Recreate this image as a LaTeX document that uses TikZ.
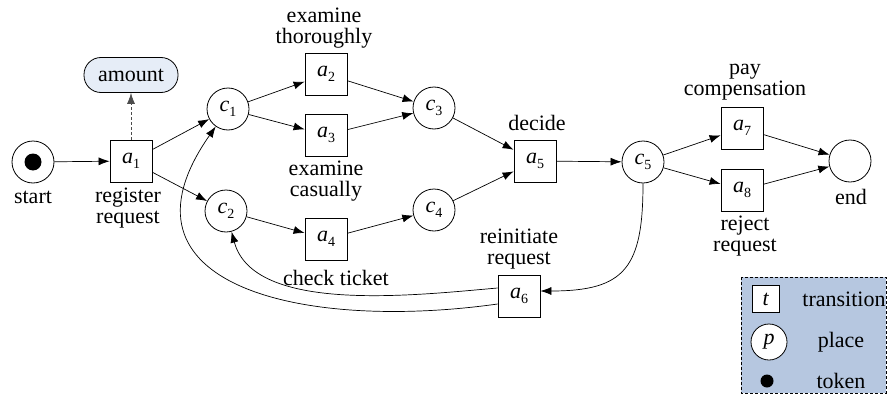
\documentclass[tikz,border=0pt]{standalone}
\usepackage{fontspec}
\setmainfont{Liberation Serif}
\usetikzlibrary{arrows.meta}
\definecolor{legendfill}{RGB}{182,199,224}
\definecolor{datafill}{RGB}{230,237,247}
\newcommand{\pn}[2]{\textit{#1}\raisebox{-0.25em}{\fontsize{14}{14}\selectfont #2}}
\begin{document}
\begin{tikzpicture}[x=1pt,y=-1pt,
	every node/.style={font=\fontsize{22}{21}\selectfont},
	trans/.style={draw, line width=0.8pt, fill=white, minimum size=42pt, inner sep=0pt},
	place/.style={draw, line width=0.8pt, circle, fill=white, minimum size=42pt, inner sep=0pt},
	token/.style={circle, fill=black, inner sep=0pt},
	txt/.style={align=center, inner sep=0pt},
	arc/.style={line width=0.7pt, -{Latex[length=11pt,width=8pt]}}]
	\useasboundingbox (0,0) rectangle (893,396);

	\node[place] (start) at (33,162) {};
	\node[token, minimum size=17pt] (tok) at (33,162) {};
	\node[txt] (Nstart) at (33,197) {start};
	\node[trans] (a1) at (131,161) {\pn{a}{1}};
	\node[txt] (Na1) at (128,208) {register\\request};
	\node[draw, line width=0.8pt, fill=datafill, rounded corners=17pt, minimum width=94pt, minimum height=35pt] (amount) at (131,75) {amount};

	\node[place] (c1) at (228,109) {\pn{c}{1}};
	\node[place] (c2) at (226,211) {\pn{c}{2}};
	\node[trans] (a2) at (326,74) {\pn{a}{2}};
	\node[txt] (Na2) at (324,28) {examine\\thoroughly};
	\node[trans] (a3) at (326,135) {\pn{a}{3}};
	\node[txt] (Na3) at (326,181) {examine\\casually};
	\node[trans] (a4) at (326,239) {\pn{a}{4}};
	\node[txt] (Na4) at (336,278) {check ticket};
	\node[place] (c3) at (434,108) {\pn{c}{3}};
	\node[place] (c4) at (434,210) {\pn{c}{4}};

	\node[trans] (a5) at (535,161) {\pn{a}{5}};
	\node[txt] (Na5) at (537,123) {decide};
	\node[place] (c5) at (643,162) {\pn{c}{5}};
	\node[trans] (a6) at (519,296) {\pn{a}{6}};
	\node[txt] (Na6) at (519,249) {reinitiate\\request};
	\node[trans] (a7) at (742,128) {\pn{a}{7}};
	\node[txt] (Na7) at (745,82) {pay\\compensation};
	\node[trans] (a8) at (742,190) {\pn{a}{8}};
	\node[txt] (Na8) at (745,236) {reject\\request};
	\node[place] (pend) at (850,161) {};
	\node[txt] (Npend) at (851,197) {end};

	\draw[arc] (start) -- (a1);
	\draw[arc, densely dashed, gray!60!black] (a1) -- (amount);
	\draw[arc] (a1) -- (c1);
	\draw[arc] (a1) -- (c2);
	\draw[arc] (c1) -- (a2);
	\draw[arc] (c1) -- (a3);
	\draw[arc] (c2) -- (a4);
	\draw[arc] (a2) -- (c3);
	\draw[arc] (a3) -- (c3);
	\draw[arc] (a4) -- (c4);
	\draw[arc] (c3) -- (a5);
	\draw[arc] (c4) -- (a5);
	\draw[arc] (a5) -- (c5);
	\draw[arc] (c5) -- (a7);
	\draw[arc] (c5) -- (a8);
	\draw[arc] (a7) -- (pend);
	\draw[arc] (a8) -- (pend);
	\draw[arc] (c5) to[out=-90, in=0, looseness=1.45] ([yshift=5pt]a6.east);
	\draw[arc] ([yshift=8pt]a6.west) to[out=185, in=-75, looseness=0.8] (c2);
	\draw[arc] ([yshift=-8pt]a6.west) to[out=188, in=235, looseness=1.5] (c1);

	\draw[densely dashed, line width=0.8pt, fill=legendfill] (741,277) rectangle (886,393);
	\node[trans, minimum size=27pt] (Lt) at (766,299) {\textit{t}};
	\node[txt] (NLt) at (844,299) {transition};
	\node[place, minimum size=36pt] (Lp) at (769,342) {\textit{p}};
	\node[txt] (NLp) at (841,342) {place};
	\node[token, minimum size=13pt] (Lk) at (767,381) {};
	\node[txt] (NLk) at (841,381) {token};
\end{tikzpicture}
\end{document}
